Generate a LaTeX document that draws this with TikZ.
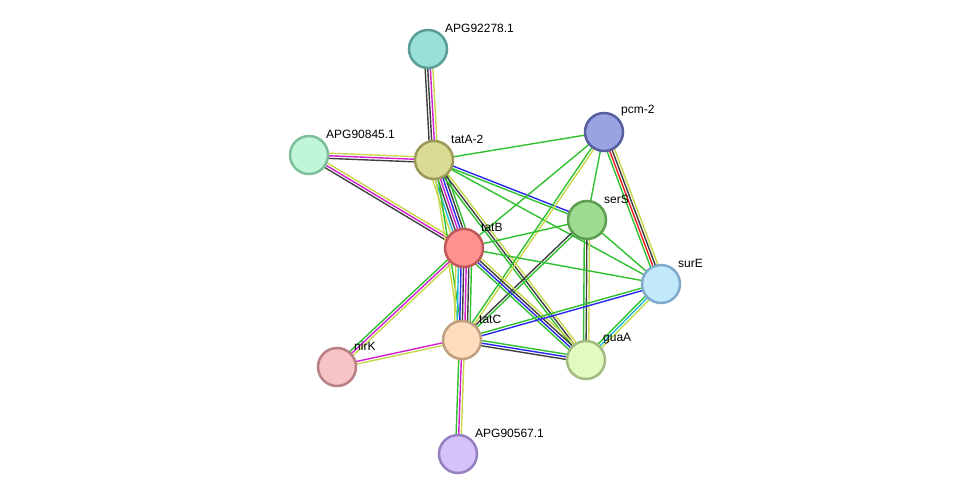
\documentclass[tikz,border=0pt]{standalone}
\usepackage{fontspec}
\setmainfont{Liberation Sans}
\usetikzlibrary{calc,backgrounds}
\definecolor{tx}{HTML}{C8D84A}
\definecolor{co}{HTML}{404040}
\definecolor{ex}{HTML}{D020D0}
\definecolor{db}{HTML}{20B8D8}
\definecolor{nb}{HTML}{30C030}
\definecolor{fu}{HTML}{F02020}
\definecolor{cc}{HTML}{2828F0}
\tikzset{
  prot/.style={circle, draw=#1, line width=2.5pt, minimum size=38pt, inner sep=0pt},
  lbl/.style={anchor=west, font=\fontsize{12}{14}\selectfont, inner sep=0pt},
}
% parallel coloured lines between two nodes
\newcommand\link[3]{%
  \foreach \c/\o in {#3}
    \draw[\c, line width=1.4pt] ($(#1.center)!1.3*\o pt!90:(#2.center)$) -- ($(#2.center)!1.3*\o pt!-90:(#1.center)$);}
\newcommand\prot[5]{%
  \definecolor{d#1}{HTML}{#4}\definecolor{f#1}{HTML}{#5}%
  \node[prot=d#1, fill=f#1] (#1) at (#2) {};
  \node[lbl] at ([shift={(17,-21)}]#1.center) {#3};}
\begin{document}
\begin{tikzpicture}[x=1pt,y=-1pt]
  \useasboundingbox (0,0) rectangle (975,500);
  \prot{p92278}{428,49}{APG92278.1}{5A9E96}{99E0D6}
  \prot{p90845}{309,155}{APG90845.1}{7CBF98}{BFF5D9}
  \prot{tatAii}{434,160}{tatA-2}{9B9A5A}{DCDB94}
  \prot{pcm}{604,132}{pcm-2}{5660A0}{99A3E0}
  \prot{serS}{587,220}{serS}{5E9E50}{9DDC8E}
  \prot{tatB}{464,248}{tatB}{C05A5A}{FE9090}
  \prot{surE}{661,284}{surE}{80AACB}{C2E8FB}
  \prot{tatC}{462,340}{tatC}{C09E80}{FEDCBC}
  \prot{guaA}{586,360}{guaA}{A2BB80}{E1FBBE}
  \prot{nirK}{337,367}{nirK}{B88084}{F7C3C6}
  \prot{p90567}{458,454}{APG90567.1}{9580C0}{D5C2FB}
  \begin{pgfonlayer}{background}
    \link{p92278}{tatAii}{co/-3,co/-1,ex/1,tx/3}
    \link{p90845}{tatAii}{co/-2,ex/0,tx/2}
    \link{p90845}{tatB}{co/-2,ex/0,tx/2}
    \link{tatAii}{pcm}{nb/0}
    \link{tatAii}{serS}{nb/-1,cc/1}
    \link{tatAii}{surE}{nb/0}
    \link{tatAii}{tatB}{tx/-6,db/-4,co/-2,ex/0,cc/2,co/4,nb/6}
    \link{tatAii}{tatC}{tx/-1,nb/1}
    \link{tatAii}{guaA}{nb/-2,co/0,tx/2}
    \link{pcm}{tatB}{nb/0}
    \link{pcm}{tatC}{nb/-1,tx/1}
    \link{pcm}{serS}{nb/0}
    \link{pcm}{surE}{nb/-3,fu/-1,co/1,tx/3}
    \link{serS}{tatB}{nb/0}
    \link{serS}{tatC}{co/-1,nb/1}
    \link{serS}{surE}{nb/0}
    \link{serS}{guaA}{nb/-2,co/0,tx/2}
    \link{tatB}{surE}{nb/0}
    \link{tatB}{tatC}{tx/-6,db/-4,cc/-2,co/0,ex/2,co/4,nb/6}
    \link{tatB}{guaA}{nb/-3,cc/-1,co/1,tx/3}
    \link{tatB}{nirK}{nb/-2,ex/0,tx/2}
    \link{surE}{tatC}{nb/-1,cc/1}
    \link{surE}{guaA}{nb/-2,db/0,tx/2}
    \link{tatC}{guaA}{co/-2,cc/0,nb/2}
    \link{tatC}{nirK}{ex/-1,tx/1}
    \link{tatC}{p90567}{nb/-2,ex/0,tx/2}
  \end{pgfonlayer}
\end{tikzpicture}
\end{document}
